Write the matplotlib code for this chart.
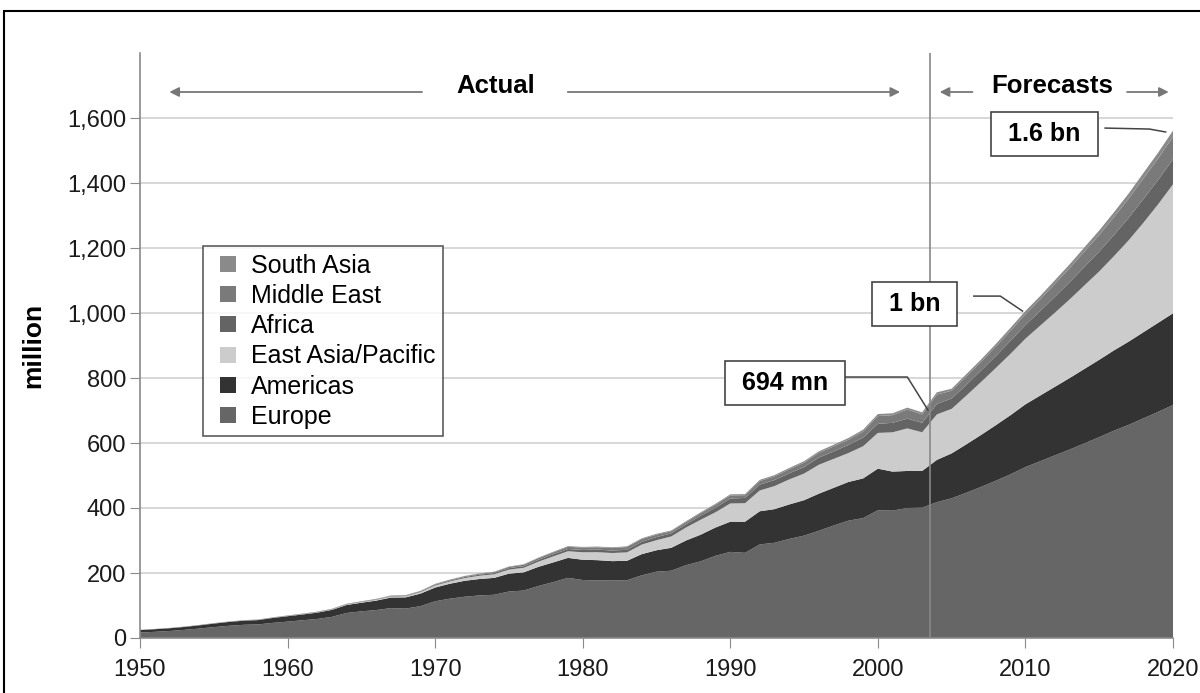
import matplotlib.pyplot as plt
import numpy as np
from matplotlib.lines import Line2D
from matplotlib.patches import Rectangle

plt.rcParams['font.family'] = ['Liberation Sans', 'DejaVu Sans']

years = np.arange(1950, 2021)

# million arrivals, 1950-2003 actual, 2004-2020 forecast
europe = [16.8, 19.0, 21.5, 25.0, 29.0, 33.5, 37.5, 40.5, 41.8, 46.5,
          50.4, 54.5, 58.5, 65.0, 77.0, 82.0, 86.0, 92.0, 90.5, 98.0,
          113.0, 121.0, 127.0, 131.0, 133.0, 143.0, 146.0, 160.0, 172.0, 185.0,
          178.5, 177.0, 178.0, 177.5, 193.0, 204.0, 207.0, 224.0, 236.0, 253.0,
          265.0, 262.0, 288.0, 293.0, 305.0, 315.0, 330.0, 346.0, 361.0, 369.0,
          393.0, 392.0, 400.0, 401.0,
          418, 430, 447, 465, 484, 504, 526, 544, 562, 580, 599, 618, 638, 656, 676, 696, 717]
americas = [7.5, 8.0, 8.5, 9.0, 9.8, 10.8, 11.8, 12.7, 13.3, 15.2,
            16.7, 17.8, 19.5, 21.5, 24.5, 26.5, 29.0, 32.5, 34.5, 38.5,
            42.3, 46.0, 49.0, 50.5, 52.0, 55.0, 56.0, 59.0, 60.5, 61.5,
            62.3, 62.5, 58.5, 60.0, 65.0, 66.0, 70.5, 76.0, 82.0, 87.0,
            92.8, 95.8, 102.0, 103.5, 106.0, 109.0, 114.0, 116.0, 119.0, 122.0,
            128.0, 120.0, 114.0, 113.0,
            130, 138, 149, 160, 171, 182, 193, 202, 211, 220, 229, 238, 247, 256, 265, 274, 282]
east_asia = [0.2, 0.2, 0.3, 0.3, 0.3, 0.4, 0.4, 0.5, 0.5, 0.6,
             0.7, 0.9, 1.1, 1.3, 1.5, 2.0, 2.5, 3.0, 3.5, 4.5,
             6.2, 7.0, 8.5, 10.0, 11.0, 12.5, 14.0, 16.0, 18.5, 20.5,
             23.0, 24.5, 25.0, 26.0, 29.5, 31.0, 35.0, 40.0, 46.0, 47.0,
             56.2, 57.0, 64.0, 71.0, 77.0, 82.0, 89.0, 89.0, 89.0, 99.0,
             110.0, 121.0, 131.0, 119.0,
             140, 137, 150, 163, 176, 189, 202, 215, 228, 242, 257, 272, 290, 312, 337, 365, 397]
africa = [0.5, 0.5, 0.5, 0.5, 0.6, 0.6, 0.6, 0.7, 0.7, 0.7,
          0.8, 0.9, 0.9, 1.0, 1.0, 1.1, 1.3, 1.4, 1.5, 1.8,
          2.4, 2.7, 3.0, 3.3, 3.6, 4.5, 5.0, 5.5, 6.3, 6.8,
          7.2, 8.0, 7.7, 7.8, 8.5, 9.5, 9.3, 9.8, 12.5, 14.0,
          15.2, 16.2, 18.0, 18.5, 18.8, 20.0, 22.0, 23.0, 25.0, 26.5,
          28.0, 29.0, 30.0, 29.0,
          32, 32, 33, 35, 37, 40, 42, 45, 49, 53, 57, 61, 65, 69, 73, 75, 77]
middle_east = [0.2, 0.2, 0.2, 0.3, 0.3, 0.4, 0.4, 0.4, 0.5, 0.5,
               0.6, 0.7, 0.8, 0.9, 1.0, 1.1, 1.2, 1.3, 1.4, 1.6,
               1.9, 2.2, 2.5, 2.8, 3.2, 3.7, 4.5, 5.2, 6.0, 6.7,
               7.1, 7.0, 7.5, 8.5, 8.3, 7.6, 6.5, 6.7, 7.5, 8.8,
               9.6, 8.4, 11.0, 11.5, 12.5, 13.7, 15.0, 15.5, 16.0, 18.5,
               24.0, 23.6, 28.0, 26.0,
               29, 24, 26, 27, 29, 31, 33, 36, 40, 43, 47, 51, 55, 59, 63, 66, 69]
south_asia = [0.03, 0.05, 0.05, 0.05, 0.1, 0.1, 0.1, 0.1, 0.1, 0.2,
              0.2, 0.2, 0.3, 0.3, 0.4, 0.4, 0.5, 0.6, 0.6, 0.7,
              0.9, 0.9, 1.0, 1.1, 1.2, 1.3, 1.5, 1.7, 2.0, 2.1,
              2.2, 2.3, 2.3, 2.3, 2.5, 2.5, 2.6, 2.8, 3.0, 3.2,
              3.2, 3.3, 3.6, 3.8, 4.0, 4.2, 4.4, 5.0, 5.3, 5.8,
              6.1, 5.8, 5.8, 6.3,
              7, 6, 7, 7, 8, 9, 10, 10, 11, 12, 13, 14, 15, 16, 17, 18, 19]

labels = ['Europe', 'Americas', 'East Asia/Pacific', 'Africa', 'Middle East', 'South Asia']
colors = ['#666666', '#333333', '#cccccc', '#646464', '#7a7a7a', '#8a8a8a']
split_year = 2003.5

fig = plt.figure(figsize=(12, 6.93), dpi=100)
ax = fig.add_axes([140/1200, 55/693, 1033/1200, 585/693])

ax.stackplot(years, europe, americas, east_asia, africa, middle_east, south_asia,
             colors=colors, linewidth=0, zorder=2)

ax.set_xlim(1950, 2020)
ax.set_ylim(0, 1800)
ax.set_xticks(np.arange(1950, 2021, 10))
ax.set_yticks(np.arange(0, 1601, 200))
ax.set_yticklabels([f'{v:,}' for v in range(0, 1601, 200)])
ax.grid(axis='y', color='#d4d4d4', linewidth=1.3, zorder=0)
ax.set_axisbelow(True)
for s in ['top', 'right']:
    ax.spines[s].set_visible(False)
for s in ['left', 'bottom']:
    ax.spines[s].set_color('#8a8a8a')
    ax.spines[s].set_linewidth(1.2)
ax.tick_params(axis='both', colors='#8a8a8a', labelcolor='#1a1a1a', labelsize=17, length=7)
ax.tick_params(axis='y', pad=3)
ax.tick_params(axis='x', pad=8)
ax.set_ylabel('million', fontsize=19, fontweight='bold', labelpad=16)

ax.axvline(split_year, color='#888888', linewidth=1.2, zorder=3)

# Actual / Forecasts headers with arrows
arrow = dict(arrowstyle='-|>', color='#777777', lw=1.3, mutation_scale=14)
ax.text(1974.1, 1697, 'Actual', fontsize=18.5, fontweight='bold', ha='center', va='center')
ax.annotate('', xy=(1951.8, 1680), xytext=(1969.3, 1680), arrowprops=arrow)
ax.annotate('', xy=(2001.7, 1680), xytext=(1978.8, 1680), arrowprops=arrow)
ax.text(2011.8, 1697, 'Forecasts', fontsize=18.5, fontweight='bold', ha='center', va='center')
ax.annotate('', xy=(2004.0, 1680), xytext=(2006.6, 1680), arrowprops=arrow)
ax.annotate('', xy=(2019.9, 1680), xytext=(2016.7, 1680), arrowprops=arrow)

# callout boxes
box = dict(boxstyle='square,pad=0.4', fc='white', ec='#444444', lw=1.2)
ax.text(1993.7, 786, ' 694 mn ', fontsize=18, fontweight='bold', ha='center', va='center', bbox=box, zorder=5)
ax.plot([1994.9, 2002.0, 2003.4], [803, 803, 701], color='#444444', lw=1.1, zorder=4)
ax.text(2002.5, 1028, ' 1 bn ', fontsize=18, fontweight='bold', ha='center', va='center', bbox=box, zorder=5)
ax.plot([2006.5, 2008.3, 2009.8], [1052, 1052, 1006], color='#444444', lw=1.1, zorder=4)
ax.text(2011.3, 1551, ' 1.6 bn ', fontsize=18, fontweight='bold', ha='center', va='center', bbox=box, zorder=5)
ax.plot([2015.4, 2018.4, 2019.5], [1569, 1566, 1557], color='#444444', lw=1.1, zorder=4)

# legend, listed top layer first
handles = [Line2D([], [], marker='s', linestyle='', markersize=11.5, color=c, markeredgewidth=0)
           for c in colors[::-1]]
leg = ax.legend(handles, labels[::-1], loc='upper left', bbox_to_anchor=(0.061, 0.67),
                fontsize=18, frameon=True, fancybox=False, handlelength=1.4,
                handletextpad=0.2, labelspacing=0.25, borderpad=0.3, borderaxespad=0)
leg.get_frame().set_edgecolor('#333333')
leg.get_frame().set_linewidth(1.2)

# outer frame
fig.patches.append(Rectangle((4/1200, -0.05), 1.2, (693-11)/693 + 0.05, transform=fig.transFigure,
                             fill=False, ec='black', lw=1.5))

plt.savefig('out.png', dpi=100)
